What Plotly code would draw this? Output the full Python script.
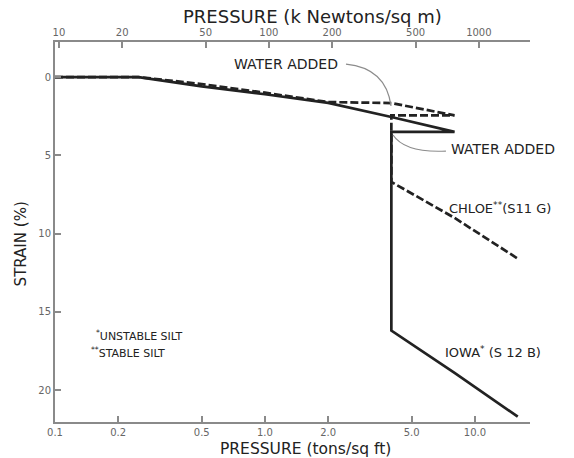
import math
import plotly.graph_objects as go

# Consolidation test: applied pressure (tons/sq ft) vs. strain (%)
pressure_iowa = [0.1, 0.25, 0.5, 1, 2, 4, 8, 4, 4, 8, 16]
strain_iowa = [0, 0, 0.6, 1.1, 1.65, 2.55, 3.5, 3.5, 16.2, 18.9, 21.7]

pressure_chloe = [0.1, 0.25, 0.5, 1, 2, 4, 8, 4, 4, 8, 16]
strain_chloe = [0, 0, 0.45, 1.0, 1.6, 1.66, 2.45, 2.45, 6.7, 9.0, 11.6]

x_ticks = [0.1, 0.2, 0.5, 1, 2, 5, 10]
x_tick_labels = ["0.1", "0.2", "0.5", "1.0", "2.0", "5.0", "10.0"]
kn_ticks = [10, 20, 50, 100, 200, 500, 1000]
y_ticks = [0, 5, 10, 15, 20]

TSF_TO_KN = 95.76  # 1 ton/sq ft in kN/sq m
X_MIN, X_MAX = 0.1, 18.3
Y_TOP, Y_BOTTOM = -2.24, 22.04

FONT = "DejaVu Sans"
INK = "#222222"
AXIS = "#8a8a8a"
TICK_TXT = "#666666"

fig = go.Figure()

fig.add_trace(go.Scatter(
    x=pressure_iowa, y=strain_iowa, mode="lines",
    line=dict(color=INK, width=2.7), name="IOWA", showlegend=False,
))
fig.add_trace(go.Scatter(
    x=pressure_chloe, y=strain_chloe, mode="lines",
    line=dict(color=INK, width=2.7, dash="8px,3px"), name="CHLOE", showlegend=False,
))

axis_common = dict(
    showline=True, linecolor=AXIS, linewidth=2, showgrid=False, zeroline=False,
    ticks="inside", ticklen=6, tickwidth=1.5, tickcolor=AXIS,
    tickfont=dict(family=FONT, size=10, color=TICK_TXT),
)

fig.update_layout(
    width=574, height=458,
    margin=dict(l=55, r=44, t=42, b=36),
    paper_bgcolor="white", plot_bgcolor="white",
    xaxis=dict(
        type="log", range=[math.log10(X_MIN), math.log10(X_MAX)],
        tickvals=x_ticks, ticktext=x_tick_labels, ticklabelstandoff=0,
        **axis_common,
    ),
    xaxis2=dict(
        type="log", overlaying="x", side="top", anchor="y",
        range=[math.log10(X_MIN * TSF_TO_KN), math.log10(X_MAX * TSF_TO_KN)],
        tickvals=kn_ticks, ticktext=[str(v) for v in kn_ticks],
        **axis_common,
    ),
    yaxis=dict(
        range=[Y_BOTTOM, Y_TOP], tickvals=y_ticks,
        **axis_common,
    ),
)

# invisible trace so the kN axis is laid out
fig.add_trace(go.Scatter(x=[X_MIN * TSF_TO_KN], y=[0], xaxis="x2", yaxis="y",
                         mode="markers", marker=dict(opacity=0), showlegend=False,
                         hoverinfo="skip"))

def note(text, x, y, size=12, xanchor="center", angle=0, color=INK, pad=1):
    fig.add_annotation(text=text, x=x, y=y, xref="paper", yref="paper",
                       showarrow=False, xanchor=xanchor, yanchor="middle",
                       textangle=angle, borderpad=pad,
                       font=dict(family=FONT, size=size, color=color))

# axis titles
note("PRESSURE (k Newtons/sq m)", 0.543, 1.066, size=18)
note("PRESSURE (tons/sq ft)", 0.528, -0.071, size=15.5, pad=0)
note("STRAIN (%)", -0.0716, 0.47, size=15, angle=-90)

# curve labels and notes
note("WATER ADDED", 0.486, 0.942, size=14)
note("WATER ADDED", 0.943, 0.718, size=14)
note("CHLOE<sup>**</sup>(S11 G)", 0.937, 0.563, size=13)
note("IOWA<sup>*</sup> (S 12 B)", 0.922, 0.184, size=13)
note("<sup>*</sup>UNSTABLE SILT", 0.083, 0.228, size=11, xanchor="left")
note("<sup>**</sup>STABLE SILT", 0.072, 0.183, size=11, xanchor="left")

# curved leader lines for the water-added notes
fig.add_shape(type="path", xref="paper", yref="paper",
              path="M 0.6126 0.942 Q 0.697 0.9316 0.7074 0.8316",
              line=dict(color="#8c8c8c", width=1.2))
fig.add_shape(type="path", xref="paper", yref="paper",
              path="M 0.7116 0.7553 Q 0.7368 0.7079 0.823 0.713",
              line=dict(color="#8c8c8c", width=1.2))

fig.write_html("out.html")
